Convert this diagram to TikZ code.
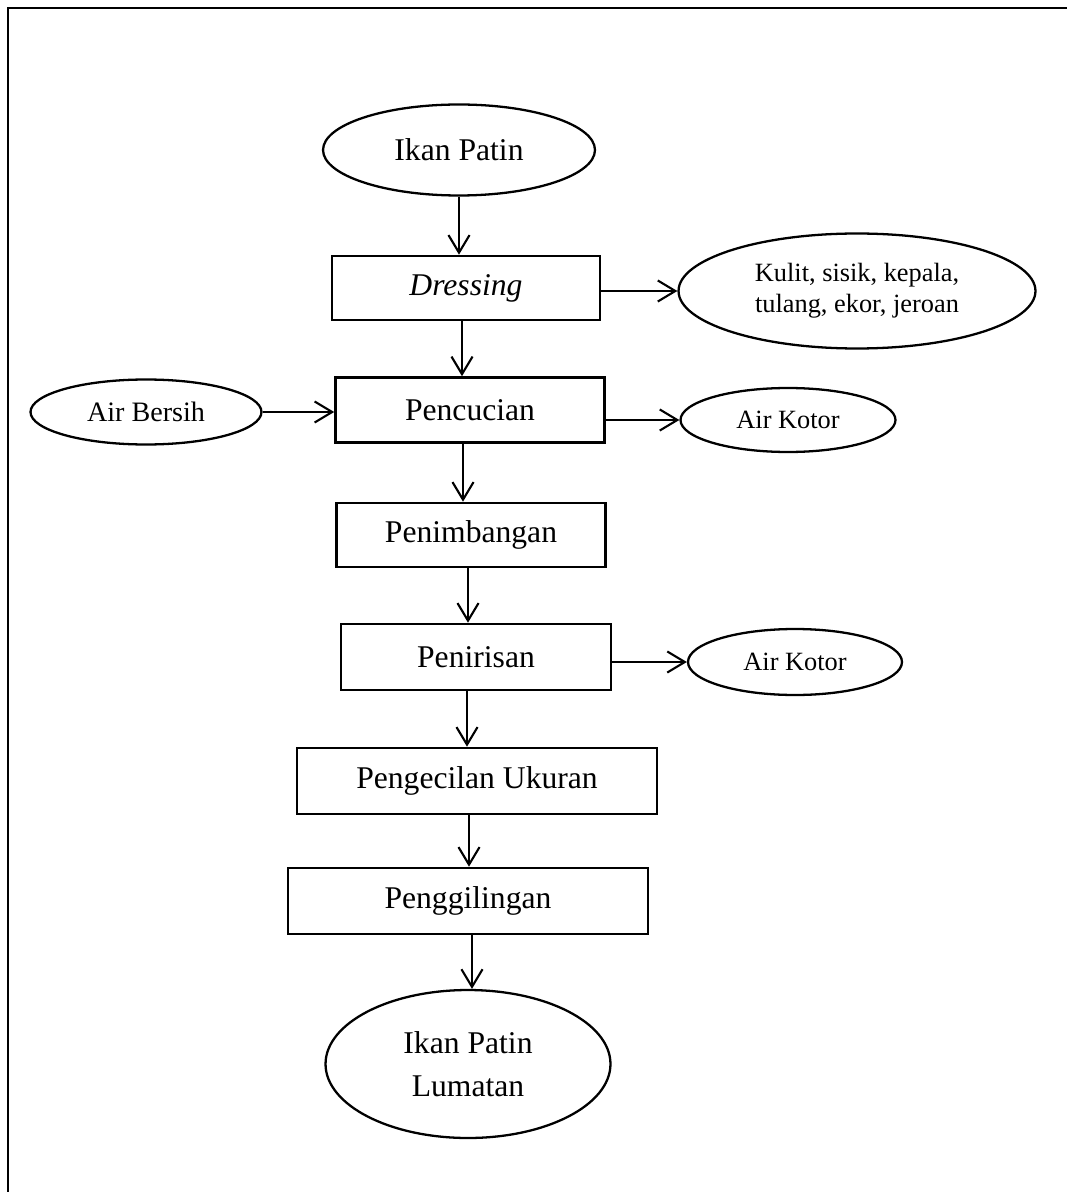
\documentclass[tikz,border=0pt]{standalone}
\usepackage{fontspec}
\setmainfont{Liberation Serif}
\usetikzlibrary{shapes.geometric,arrows.meta}

\tikzset{
	proses/.style={draw,line width=1.5pt,rectangle,inner sep=0pt,minimum height=1.3cm,
		font=\fontsize{18}{22}\selectfont},
	bahan/.style={draw,line width=1.3pt,ellipse,inner sep=0pt,align=center,
		font=\fontsize{18}{24.5}\selectfont},
	sisa/.style={draw,line width=1.3pt,ellipse,inner sep=0pt,align=center,
		font=\fontsize{15}{17.5}\selectfont},
	alir/.style={line width=1.2pt,-{Straight Barb[length=10pt,width=12pt,line width=1.2pt]}}
}

\begin{document}
\begin{tikzpicture}[x=0.02cm,y=-0.02cm]
		\useasboundingbox (0,0) rectangle (1067,1192);
		% >>> frame
		\draw[line width=1.2pt] (8,1192) -- (8,8) -- (1067,8);
		% <<< frame

		% >>> main flow
		\node[bahan,minimum width=5.44cm,minimum height=1.82cm] (ikan) at (459,150) {Ikan Patin};
		\node[proses,minimum width=5.36cm,minimum height=1.28cm] (dressing) at (466,288) {\textit{Dressing}};
		\node[proses,minimum width=5.38cm] (cuci) at (470,410) {Pencucian};
		\node[proses,minimum width=5.38cm,minimum height=1.28cm] (timbang) at (471,535) {Penimbangan};
		\node[proses,minimum width=5.4cm,minimum height=1.32cm] (tiris) at (476,657) {Penirisan};
		\node[proses,minimum width=7.2cm,minimum height=1.32cm] (kecil) at (477,781) {Pengecilan Ukuran};
		\node[proses,minimum width=7.2cm,minimum height=1.32cm] (giling) at (468,901) {Penggilingan};
		\node[bahan,minimum width=5.7cm,minimum height=2.96cm] (lumat) at (468,1064) {Ikan Patin\\Lumatan};
		% <<< main flow

		% >>> inputs and wastes
		\node[sisa,minimum width=7.14cm,minimum height=2.3cm] (limbah) at (857,291) {Kulit, sisik, kepala,\\tulang, ekor, jeroan};
		\node[sisa,minimum width=4.62cm,minimum height=1.3cm,font=\fontsize{16}{18}\selectfont] (bersih) at (146,412) {Air Bersih};
		\node[sisa,minimum width=4.3cm,minimum height=1.28cm] (kotor1) at (788,420) {Air Kotor};
		\node[sisa,minimum width=4.28cm,minimum height=1.32cm] (kotor2) at (795,662) {Air Kotor};
		% <<< inputs and wastes

		% >>> arrows
		\draw[alir] (ikan.south) -- (ikan.south |- dressing.north);
		\draw[alir] ([xshift=-0.08cm]dressing.south) -- ([xshift=-0.08cm]dressing.south |- cuci.north);
		\draw[alir] ([xshift=-0.14cm]cuci.south) -- ([xshift=-0.14cm]cuci.south |- timbang.north);
		\draw[alir] ([xshift=-0.06cm]timbang.south) -- ([xshift=-0.06cm]timbang.south |- tiris.north);
		\draw[alir] ([xshift=-0.18cm]tiris.south) -- ([xshift=-0.18cm]tiris.south |- kecil.north);
		\draw[alir] ([xshift=-0.16cm]kecil.south) -- ([xshift=-0.16cm]kecil.south |- giling.north);
		\draw[alir] ([xshift=0.08cm]giling.south) -- ([xshift=0.08cm]giling.south |- lumat.north);
		\draw[alir] (dressing.east |- limbah) -- (limbah.west);
		\draw[alir] (bersih.east) -- (bersih.east -| cuci.west);
		\draw[alir] (cuci.east |- kotor1) -- (kotor1.west);
		\draw[alir] (tiris.east |- kotor2) -- (kotor2.west);
		% <<< arrows
	\end{tikzpicture}
\end{document}
